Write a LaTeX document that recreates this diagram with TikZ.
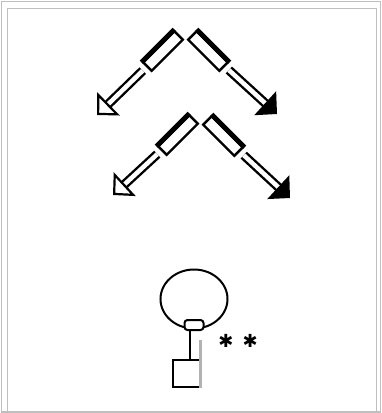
\documentclass[tikz,border=0pt]{standalone}
\usepackage{fontspec}
\newfontfamily\symfont{DejaVu Sans}
\usepackage{tikz}
\usetikzlibrary{arrows.meta,shapes,positioning,calc}

\begin{document}
\begin{tikzpicture}[x=1pt, y=-1pt,
    bar/.style={draw, line width=2.4pt, minimum width=44pt, minimum height=12pt, inner sep=0pt},
    openarr/.style={double, double distance=4.5pt, line width=2.4pt, shorten <=5pt,
        -{Triangle[open, length=16pt, width=32pt, line width=2.2pt]}},
    fullarr/.style={double, double distance=4.5pt, line width=2.4pt, shorten <=5pt,
        -{Triangle[length=16pt, width=32pt]}}]
    \useasboundingbox (0,0) rectangle (382,413);
    \draw[gray!50, line width=1.5pt] (1.5,1.5) rectangle (380.5,412);
    \draw[gray!50, line width=1.5pt] (7.5,8.5) rectangle (376.5,412);

    \node[bar, rotate=45] (lb1) at (163,51) {};
    \node[bar, rotate=-45] (rb1) at (208,51) {};
    \node[bar, rotate=45] (lb2) at (178,135) {};
    \node[bar, rotate=-45] (rb2) at (223,136) {};
    \foreach \b in {lb1,rb1,lb2,rb2}
        \draw[line width=5pt] (\b.north west) -- (\b.north east);
    \coordinate (lt1) at (97,115);
    \coordinate (rt1) at (277,114);
    \coordinate (lt2) at (113,195);
    \coordinate (rt2) at (290,198);
    \draw[openarr] (lb1) -- (lt1);
    \draw[fullarr] (rb1) -- (rt1);
    \draw[openarr] (lb2) -- (lt2);
    \draw[fullarr] (rb2) -- (rt2);

    \node[draw, ellipse, line width=2pt, minimum width=67pt, minimum height=59pt] (head) at (194,299) {};
    \node[draw, fill=white, rounded corners=3pt, line width=2pt, minimum width=19pt, minimum height=10pt, inner sep=0pt] (neck) at (194,325) {};
    \node[draw, line width=2pt, minimum width=28pt, minimum height=27pt, inner sep=0pt] (foot) at (186.5,373.5) {};
    \draw[line width=2.4pt] ([xshift=-4pt]neck.south) -- ([xshift=-4pt]neck.south |- foot.north);
    \draw[gray!60, line width=2.4pt] ([xshift=-1pt]foot.south east) -- ++(0,-48);
    \node[font=\symfont\fontsize{18}{18}\selectfont, inner sep=0pt] (stars) at (238,341) {✱\hspace{9pt}✱};
\end{tikzpicture}
\end{document}
